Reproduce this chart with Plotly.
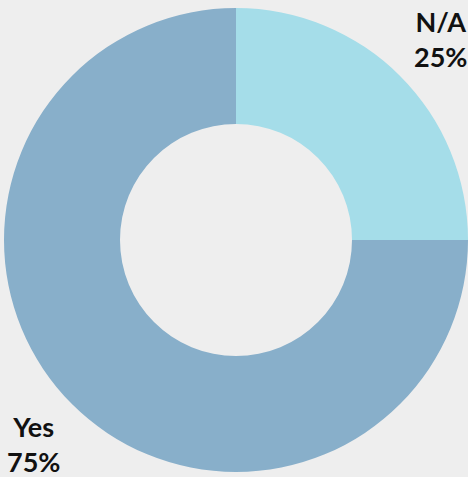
import plotly.graph_objects as go

labels = ["N/A", "Yes"]
values = [25, 75]
colors = ["#a5dde9", "#88afca"]

W, H = 468, 477
total = sum(values)
pct = {lab: round(v / total * 100) for lab, v in zip(labels, values)}

fig = go.Figure(
    go.Pie(
        labels=labels,
        values=values,
        hole=0.5,
        sort=False,
        direction="clockwise",
        rotation=0,
        marker=dict(colors=colors, line=dict(width=0)),
        textinfo="none",
        hoverinfo="label+percent",
        domain=dict(x=[4 / W, 468 / W], y=[5 / H, 469 / H]),
        showlegend=False,
    )
)

font = dict(family="Lato", size=27, color="#111111")
fig.add_annotation(
    text=f"<b>N/A</b><br><b>{pct['N/A']}%</b>",
    x=440 / W, y=1 - 4 / H, xref="paper", yref="paper",
    xanchor="center", yanchor="top", showarrow=False, font=font, align="center",
    borderpad=0,
)
fig.add_annotation(
    text=f"<b>Yes</b><br><b>{pct['Yes']}%</b>",
    x=33 / W, y=1 - 409 / H, xref="paper", yref="paper",
    xanchor="center", yanchor="top", showarrow=False, font=font, align="center",
    borderpad=0,
)

fig.update_layout(
    width=W, height=H,
    margin=dict(l=0, r=0, t=0, b=0),
    paper_bgcolor="#eeeeee",
    plot_bgcolor="#eeeeee",
)

fig.write_html("out.html")
